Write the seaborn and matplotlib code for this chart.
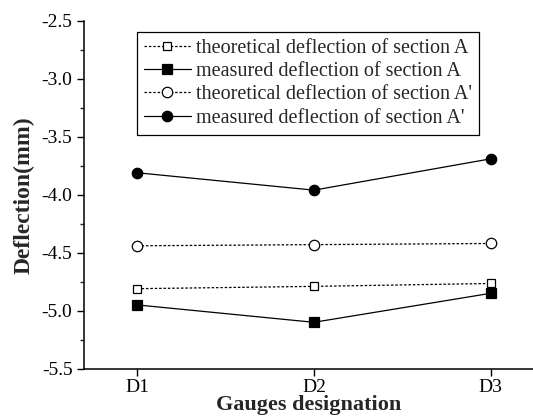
import numpy as np
import pandas as pd
import seaborn as sns
import matplotlib.pyplot as plt
from matplotlib.ticker import MultipleLocator

sns.set_style('ticks')
plt.rcParams['font.family'] = ['Liberation Serif', 'DejaVu Serif']

gauges = ['D1', 'D2', 'D3']
theo_A = [-4.81, -4.79, -4.765]
meas_A = [-4.95, -5.10, -4.85]
theo_A2 = [-4.44, -4.43, -4.42]
meas_A2 = [-3.81, -3.96, -3.69]

labels = ['theoretical deflection of section A',
          'measured deflection of section A',
          "theoretical deflection of section A'",
          "measured deflection of section A'"]

fig = plt.figure(figsize=(5.33, 4.18), dpi=100)
ax = fig.add_axes([0.158, 0.118, 0.842, 0.832])

x = np.arange(len(gauges))
series = [
    (theo_A, labels[0], (0, (2, 1.5)), 's', 'white', 6),
    (meas_A, labels[1], '-', 's', 'black', 6.5),
    (theo_A2, labels[2], (0, (2, 1.5)), 'o', 'white', 7.5),
    (meas_A2, labels[3], '-', 'o', 'black', 7.5),
]
for vals, lab, ls, mk, fc, ms in series:
    sns.lineplot(x=x, y=vals, ax=ax, label=lab, color='black', linewidth=0.9,
                 linestyle=ls, marker=mk, markersize=ms, markerfacecolor=fc,
                 markeredgecolor='black', markeredgewidth=0.9)

ax.set_xlim(-0.3, 2.24)
ax.set_ylim(-5.5, -2.5)
ax.set_xticks(x)
ax.set_xticklabels(gauges)
ax.yaxis.set_major_locator(MultipleLocator(0.5))
ax.yaxis.set_minor_locator(MultipleLocator(0.25))
ax.yaxis.set_major_formatter(plt.FuncFormatter(lambda v, p: f'{v:.1f}'))
ax.tick_params(axis='both', labelsize=14, direction='out', length=5, width=1, colors='black')
ax.tick_params(axis='x', pad=2.5)
ax.tick_params(axis='y', which='minor', length=3, width=1, direction='out')

for side in ['top', 'right']:
    ax.spines[side].set_visible(False)
for side in ['left', 'bottom']:
    ax.spines[side].set_linewidth(1.1)
    ax.spines[side].set_color('black')

ax.set_xlabel('Gauges designation', fontsize=16, fontweight='bold', labelpad=-0.5)
ax.set_ylabel('Deflection(mm)', fontsize=17, fontweight='bold', labelpad=5)

leg = ax.legend(loc='upper left', bbox_to_anchor=(0.118, 0.968), fontsize=14.5,
                frameon=True, fancybox=False, edgecolor='black', framealpha=1,
                handlelength=2.3, handletextpad=0.25, labelspacing=0.2,
                borderpad=0.35, borderaxespad=0)
leg.get_frame().set_linewidth(0.9)

fig.savefig('out.png', dpi=100)
